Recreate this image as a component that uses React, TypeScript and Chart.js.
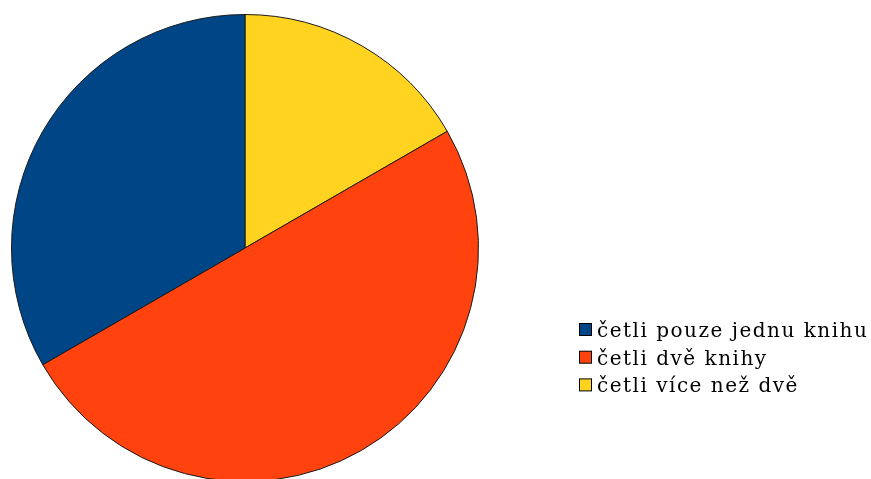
import React, { useEffect, useRef } from "react";
import { Chart, registerables } from "chart.js";

Chart.register(...registerables);

// Data in drawing order (clockwise from 12 o'clock)
const labels = ["četli více než dvě", "četli dvě knihy", "četli pouze jednu knihu"];
const values = [16.67, 50, 33.33];
const colors = ["#ffd320", "#ff420e", "#004586"];

const legendPlugin = {
  id: "sideLegend",
  afterDraw(chart: any) {
    const ctx = chart.ctx;
    const ds = chart.data.datasets[0];
    const labs = chart.data.labels as string[];
    const n = labs.length;
    ctx.save();
    ctx.font = "20px 'DejaVu Serif'";
    (ctx as any).letterSpacing = "1.5px";
    ctx.textBaseline = "alphabetic";
    ctx.textAlign = "left";
    for (let k = 0; k < n; k++) {
      const i = n - 1 - k;
      const base = 337 + k * 27.7;
      ctx.fillStyle = ds.backgroundColor[i];
      ctx.fillRect(579.5, base - 13.5, 12, 12);
      ctx.strokeStyle = "#000";
      ctx.lineWidth = 1;
      ctx.strokeRect(579.5, base - 13.5, 12, 12);
      ctx.fillStyle = "#000";
      ctx.fillText(labs[i], 597, base);
    }
    ctx.restore();
  },
};

export default function App() {
  const ref = useRef<HTMLCanvasElement>(null);
  useEffect(() => {
    document.body.style.margin = "0";
    document.body.style.overflow = "hidden";
    const chart = new Chart(ref.current!, {
      type: "pie",
      data: {
        labels,
        datasets: [
          {
            data: values,
            backgroundColor: colors,
            borderColor: "#1a1a1a",
            borderWidth: 1,
          },
        ],
      },
      options: {
        animation: false,
        responsive: false,
        layout: { padding: { left: 11, top: 14, right: 392, bottom: 18 } },
        plugins: { legend: { display: false }, tooltip: { enabled: false } },
      },
      plugins: [legendPlugin],
    });
    return () => chart.destroy();
  }, []);
  return (
    <div style={{ position: "fixed", left: 0, top: 0, width: 871, height: 479, overflow: "hidden", background: "#fff" }}>
      <canvas ref={ref} width={871} height={500} style={{ width: 871, height: 500, display: "block" }} />
    </div>
  );
}
